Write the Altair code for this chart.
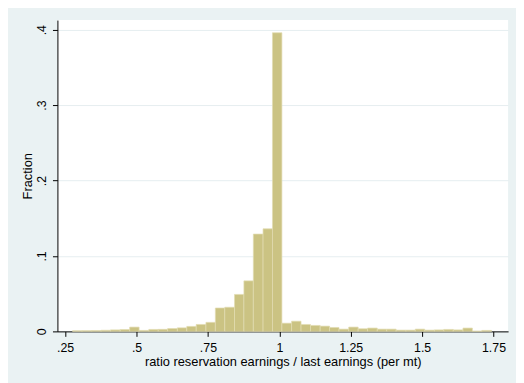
import altair as alt
import pandas as pd

bin_left = [0.276, 0.309, 0.343, 0.376, 0.409, 0.443, 0.476, 0.509, 0.543, 0.576,
            0.609, 0.643, 0.676, 0.709, 0.743, 0.776, 0.809, 0.843, 0.876, 0.909,
            0.943, 0.976, 1.009, 1.043, 1.076, 1.109, 1.143, 1.176, 1.209, 1.243,
            1.276, 1.309, 1.343, 1.376, 1.409, 1.443, 1.476, 1.509, 1.543, 1.576,
            1.609, 1.643, 1.676, 1.709]
bin_right = bin_left[1:] + [1.743]
fraction = [0.0009, 0.001, 0.0012, 0.0015, 0.002, 0.0025, 0.0057, 0.0013, 0.0026, 0.0027,
            0.0038, 0.0047, 0.0066, 0.0092, 0.012, 0.031, 0.032, 0.049, 0.067, 0.129,
            0.136, 0.396, 0.0109, 0.0135, 0.0092, 0.0079, 0.007, 0.0052, 0.003, 0.0057,
            0.0035, 0.0044, 0.003, 0.003, 0.0017, 0.0017, 0.003, 0.0017, 0.002, 0.0026,
            0.002, 0.0044, 0.0004, 0.0013]

x_ticks = [0.25, 0.5, 0.75, 1.0, 1.25, 1.5, 1.75]
y_ticks = [0.0, 0.1, 0.2, 0.3, 0.4]

df = pd.DataFrame({"lo": bin_left, "hi": bin_right, "frac": fraction})

FONT = "Liberation Sans"

chart = alt.Chart(df).mark_rect(
    fill="#CBC383", stroke="#E2DCB2", strokeWidth=0.7
).encode(
    x=alt.X("lo:Q", scale=alt.Scale(domain=[0.223, 1.801], nice=False, zero=False),
            axis=alt.Axis(values=x_ticks, grid=False,
                          labelExpr="replace(toString(datum.value), /^0\\./, '.')",
                          title="ratio reservation earnings / last earnings (per mt)",
                          titleFont=FONT, titleFontSize=13, titleFontWeight="normal",
                          titleColor="#000000", titlePadding=2,
                          labelFont=FONT, labelFontSize=12.5, labelColor="#000000",
                          labelPadding=5, tickSize=5, tickColor="#000000",
                          domainColor="#000000", labelFlush=False, labelOverlap=False)),
    x2="hi:Q",
    y=alt.Y("frac:Q", scale=alt.Scale(domain=[0, 0.4128], nice=False),
            axis=alt.Axis(values=y_ticks, grid=True, gridColor="#E6EEF0", gridWidth=1,
                          labelExpr="replace(toString(datum.value), /^0\\./, '.')",
                          title="Fraction", titleFont=FONT, titleFontSize=13,
                          titleFontWeight="normal", titleColor="#000000", titlePadding=1,
                          labelFont=FONT, labelFontSize=12.5, labelColor="#000000",
                          labelAngle=-90, labelAlign="center", labelBaseline="bottom",
                          labelPadding=4, tickSize=5, tickColor="#000000",
                          domainColor="#000000", labelFlush=False, labelOverlap=False)),
    y2=alt.Y2(datum=0),
).properties(
    width=456, height=315,
    background="#EAF2F3",
    padding={"left": 50, "top": 10, "right": 8, "bottom": 50},
    autosize=alt.AutoSizeParams(type="none"),
).configure_view(fill="#FFFFFF", stroke=None)

chart.save("out.html", embed_options={"renderer": "svg", "actions": False})
